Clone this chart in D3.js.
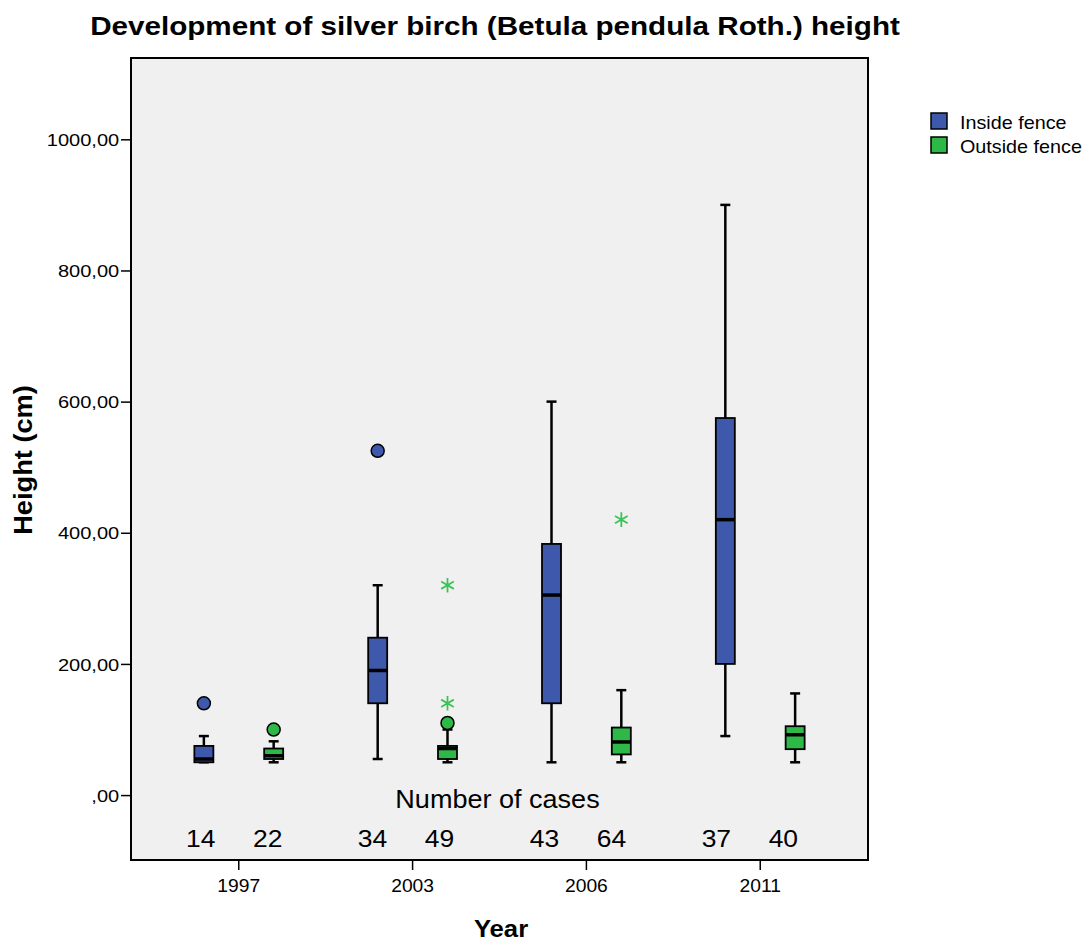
<!DOCTYPE html>
<html>
<head>
<meta charset="utf-8">
<script src="https://cdn.jsdelivr.net/npm/d3@7"></script>
<style>
  body { margin: 0; background: #fff; }
  text { font-family: "Liberation Sans", Arial, sans-serif; fill: #000; }
</style>
</head>
<body>
<div id="chart"></div>
<script>
// Boxplot: silver birch height by year, inside vs outside fence

// ---- data ----
const years = ["1997", "2003", "2006", "2011"];
const groups = ["Inside fence", "Outside fence"];

const insideLow    = [50, 55, 50, 90];
const insideQ1     = [50, 140, 140, 200];
const insideMedian = [55, 190, 305, 420];
const insideQ3     = [75, 240, 383, 575];
const insideHigh   = [90, 320, 600, 900];

const outsideLow    = [50, 50, 50, 50];
const outsideQ1     = [55, 55, 62, 70];
const outsideMedian = [60, 71, 81, 92];
const outsideQ3     = [71, 75, 103, 105];
const outsideHigh   = [82, 100, 160, 155];

// circles = outliers, stars = extreme values
const insideOutliers  = [[140], [525], [], []];
const outsideOutliers = [[100], [110], [], []];
const insideExtremes  = [[], [], [], []];
const outsideExtremes = [[], [320, 140], [420], []];

const insideCases  = [14, 34, 43, 37];
const outsideCases = [22, 49, 64, 40];

const yTicks = [0, 200, 400, 600, 800, 1000];

// ---- layout ----
const width = 1089, height = 943;
const plot = { left: 131, right: 868, top: 58, bottom: 860 };
const colors = { "Inside fence": "#3E58AC", "Outside fence": "#2EB848" };
const starColor = "#3DC25A";
const boxWidth = 19, capWidth = 10;

// build one record per box
const boxes = [];
years.forEach((yr, i) => {
    boxes.push({ year: yr, group: groups[0], low: insideLow[i], q1: insideQ1[i], median: insideMedian[i],
        q3: insideQ3[i], high: insideHigh[i], outliers: insideOutliers[i], extremes: insideExtremes[i], n: insideCases[i] });
    boxes.push({ year: yr, group: groups[1], low: outsideLow[i], q1: outsideQ1[i], median: outsideMedian[i],
        q3: outsideQ3[i], high: outsideHigh[i], outliers: outsideOutliers[i], extremes: outsideExtremes[i], n: outsideCases[i] });
});

const svg = d3.select("#chart").append("svg")
    .attr("width", width)
    .attr("height", height);

// scales
const xBand = d3.scaleBand()
    .domain(years)
    .range([plot.left, plot.right])
    .paddingInner(0)
    .paddingOuter(0.12);

const xInner = d3.scalePoint()
    .domain(groups)
    .range([0, xBand.bandwidth()])
    .padding(0.745);

// the case-count row is laid out slightly tighter than the boxes
const countBand = d3.scaleBand()
    .domain(years)
    .range([plot.left, plot.right - 15])
    .paddingInner(0)
    .paddingOuter(0.1);

const countInner = d3.scalePoint()
    .domain(groups)
    .range([0, countBand.bandwidth()])
    .padding(0.783);

const y = d3.scaleLinear()
    .domain([-99, 1124])
    .range([plot.bottom, plot.top]);

const cx = d => xBand(d.year) + xInner(d.group);

// horizontally stretched text helper (source chart is slightly wide)
function placeText(sel, x, yy, sx, rot) {
    return sel.attr("transform", `translate(${x},${yy})` + (rot ? ` rotate(${rot})` : "") + ` scale(${sx},1)`);
}

// plot background
svg.append("rect")
    .attr("x", plot.left)
    .attr("y", plot.top)
    .attr("width", plot.right - plot.left)
    .attr("height", plot.bottom - plot.top)
    .attr("fill", "#F0F0F0")
    .attr("stroke", "none");

// Y axis
const yAxis = svg.append("g")
    .attr("transform", `translate(${plot.left},0)`)
    .call(d3.axisLeft(y).tickValues(yTicks).tickSize(10)
        .tickFormat(d => (d === 0 ? "" : d) + ",00"));
yAxis.select(".domain").remove();
yAxis.selectAll(".tick line").attr("stroke", "#000").attr("stroke-width", 1.5);
yAxis.selectAll(".tick text")
    .attr("x", -10)
    .attr("dy", "0.36em")
    .attr("transform", "scale(1.18,1)")
    .style("font-size", "17px")
    .style("font-family", "\"Liberation Sans\", Arial, sans-serif")
    .attr("fill", "#000");

// X axis
const xAxis = svg.append("g")
    .attr("transform", `translate(0,${plot.bottom})`)
    .call(d3.axisBottom(xBand).tickSize(10));
xAxis.select(".domain").remove();
xAxis.selectAll(".tick line").attr("stroke", "#000").attr("stroke-width", 1.5);
xAxis.selectAll(".tick text")
    .attr("y", 19)
    .attr("transform", "scale(1.07,1)")
    .style("font-size", "18px")
    .style("font-family", "\"Liberation Sans\", Arial, sans-serif")
    .attr("fill", "#000");

// boxes
const boxG = svg.append("g").selectAll("g.box")
    .data(boxes)
    .join("g")
    .attr("class", "box")
    .attr("transform", d => `translate(${cx(d)},0)`);

// whisker line
boxG.append("line")
    .attr("x1", 0).attr("x2", 0)
    .attr("y1", d => y(d.high))
    .attr("y2", d => y(d.low))
    .attr("stroke", "#000")
    .attr("stroke-width", 2.5);

// caps
boxG.append("line")
    .attr("x1", -capWidth / 2).attr("x2", capWidth / 2)
    .attr("y1", d => y(d.high)).attr("y2", d => y(d.high))
    .attr("stroke", "#000").attr("stroke-width", 2.5);
boxG.append("line")
    .attr("x1", -capWidth / 2).attr("x2", capWidth / 2)
    .attr("y1", d => y(d.low)).attr("y2", d => y(d.low))
    .attr("stroke", "#000").attr("stroke-width", 2.5);

// box body
boxG.append("rect")
    .attr("x", -boxWidth / 2)
    .attr("width", boxWidth)
    .attr("y", d => y(d.q3))
    .attr("height", d => y(d.q1) - y(d.q3))
    .attr("fill", d => colors[d.group])
    .attr("stroke", "#000")
    .attr("stroke-width", 1.8);

// median
boxG.append("line")
    .attr("x1", -boxWidth / 2).attr("x2", boxWidth / 2)
    .attr("y1", d => y(d.median)).attr("y2", d => y(d.median))
    .attr("stroke", "#000")
    .attr("stroke-width", 3.5);

// outliers (circles)
boxG.selectAll("circle")
    .data(d => d.outliers.map(v => ({ v, group: d.group })))
    .join("circle")
    .attr("cx", 0)
    .attr("cy", d => y(d.v))
    .attr("r", 6.5)
    .attr("fill", d => colors[d.group])
    .attr("stroke", "#000")
    .attr("stroke-width", 1.5);

// extremes (stars)
const star = d3.symbol().type(d3.symbolAsterisk).size(150);
boxG.selectAll("path.extreme")
    .data(d => d.extremes.map(v => ({ v, group: d.group })))
    .join("path")
    .attr("class", "extreme")
    .attr("d", star)
    .attr("transform", d => `translate(0,${y(d.v)})`)
    .attr("fill", "none")
    .attr("stroke", starColor)
    .attr("stroke-width", 1.8);

// plot border
svg.append("rect")
    .attr("x", plot.left)
    .attr("y", plot.top)
    .attr("width", plot.right - plot.left)
    .attr("height", plot.bottom - plot.top)
    .attr("fill", "none")
    .attr("stroke", "#000")
    .attr("stroke-width", 2);

// number of cases
placeText(svg.append("text"), (plot.left + plot.right) / 2 - 2, 808, 1.04)
    .attr("text-anchor", "middle")
    .style("font-size", "26px")
    .text("Number of cases");

svg.append("g").selectAll("text.count")
    .data(boxes)
    .join("text")
    .attr("class", "count")
    .attr("text-anchor", "middle")
    .style("font-size", "23px")
    .attr("transform", d => `translate(${countBand(d.year) + countInner(d.group)},847) scale(1.15,1)`)
    .text(d => d.n);

// title
placeText(svg.append("text"), 495, 35, 1.185)
    .attr("text-anchor", "middle")
    .style("font-size", "25px")
    .style("font-weight", "bold")
    .text("Development of silver birch (Betula pendula Roth.) height");

// axis titles
placeText(svg.append("text"), 501, 937, 1.07)
    .attr("text-anchor", "middle")
    .style("font-size", "24px")
    .style("font-weight", "bold")
    .text("Year");

placeText(svg.append("text"), 32, 460, 1.09, -90)
    .attr("text-anchor", "middle")
    .style("font-size", "25px")
    .style("font-weight", "bold")
    .text("Height (cm)");

// legend
const legend = svg.append("g").selectAll("g.leg")
    .data(groups)
    .join("g")
    .attr("class", "leg")
    .attr("transform", (d, i) => `translate(931,${113 + i * 24})`);
legend.append("rect")
    .attr("width", 16).attr("height", 16)
    .attr("fill", d => colors[d])
    .attr("stroke", "#000")
    .attr("stroke-width", 1.5);
legend.append("text")
    .attr("transform", "translate(29,16) scale(1.04,1)")
    .style("font-size", "19px")
    .text(d => d);
</script>
</body>
</html>
